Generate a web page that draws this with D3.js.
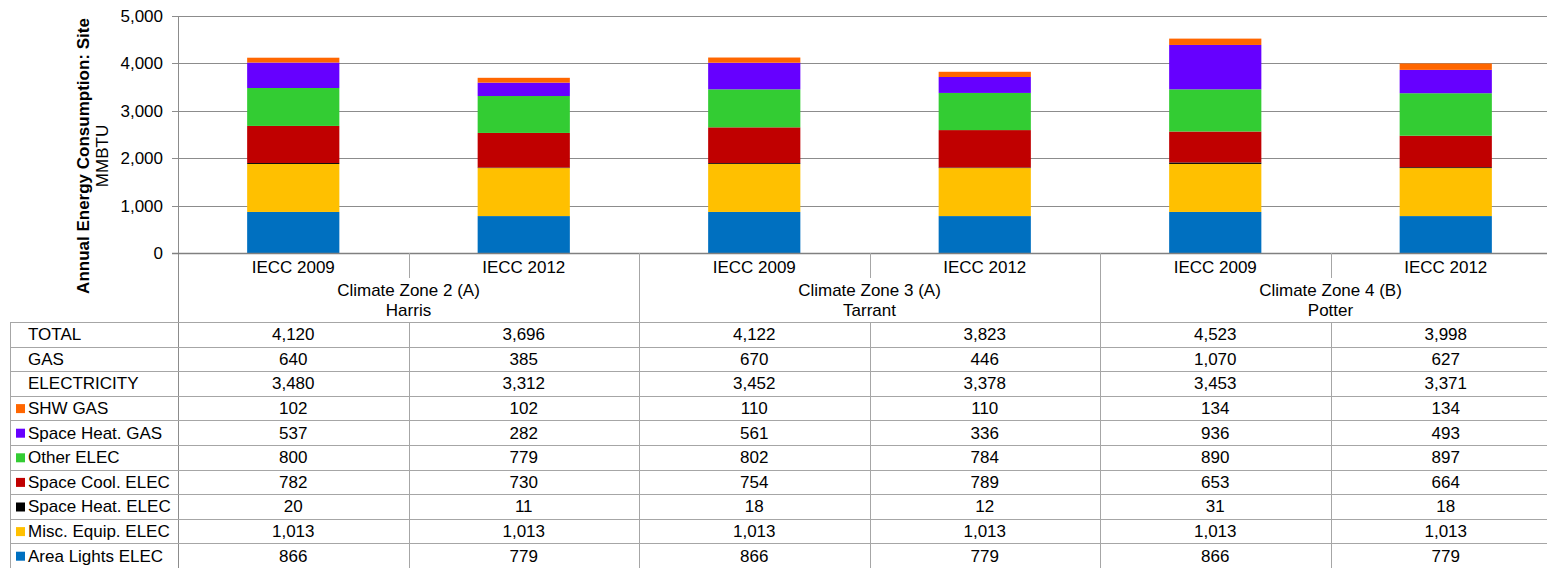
<!DOCTYPE html>
<html>
<head>
<meta charset="utf-8">
<script src="https://cdn.jsdelivr.net/npm/d3@7"></script>
<style>
  body { margin: 0; background: #fff; }
  svg { display: block; font-family: "Liberation Sans", Arial, sans-serif; }
</style>
</head>
<body>
<div id="chart"></div>
<script>
// categories (code year) and groups (climate zone / county)
const codes = ["IECC 2009", "IECC 2012", "IECC 2009", "IECC 2012", "IECC 2009", "IECC 2012"]
const zones = ["Climate Zone 2 (A)", "Climate Zone 3 (A)", "Climate Zone 4 (B)"]
const counties = ["Harris", "Tarrant", "Potter"]

// series, bottom of stack first
const seriesNames = ["Area Lights ELEC", "Misc. Equip. ELEC", "Space Heat. ELEC", "Space Cool. ELEC", "Other ELEC", "Space Heat. GAS", "SHW GAS"]
const seriesColors = ["#0070C0", "#FFC000", "#000000", "#C00000", "#33CC33", "#6600FF", "#FF6600"]

const areaLights = [866, 779, 866, 779, 866, 779]
const miscEquip = [1013, 1013, 1013, 1013, 1013, 1013]
const spaceHeatElec = [20, 11, 18, 12, 31, 18]
const spaceCool = [782, 730, 754, 789, 653, 664]
const otherElec = [800, 779, 802, 784, 890, 897]
const spaceHeatGas = [537, 282, 561, 336, 936, 493]
const shwGas = [102, 102, 110, 110, 134, 134]

// summary rows as printed in the table
const totals = [4120, 3696, 4122, 3823, 4523, 3998]
const gasTotals = [640, 385, 670, 446, 1070, 627]
const elecTotals = [3480, 3312, 3452, 3378, 3453, 3371]

const yTicks = [0, 1000, 2000, 3000, 4000, 5000]

const seriesValues = [areaLights, miscEquip, spaceHeatElec, spaceCool, otherElec, spaceHeatGas, shwGas]

const width = 1547, height = 568
const plotLeft = 178, plotRight = 1561, plotTop = 16, plotBottom = 253
const tableLeft = 10, tableTop = 322, rowH = 24.6
const gridColor = "#8c8c8c", tableLine = "#a6a6a6"

const svg = d3.select("#chart").append("svg")
    .attr("width", width)
    .attr("height", height)

const x = d3.scaleBand()
    .domain(d3.range(codes.length))
    .range([plotLeft, plotRight])
    .paddingInner(0)
    .paddingOuter(0)

const y = d3.scaleLinear()
    .domain([0, 5000])
    .range([plotBottom, plotTop])

// gridlines
svg.append("g")
    .selectAll("line")
    .data(yTicks)
    .join("line")
    .attr("x1", plotLeft - 6)
    .attr("x2", plotRight)
    .attr("y1", d => Math.round(y(d)) + 0.5)
    .attr("y2", d => Math.round(y(d)) + 0.5)
    .style("stroke", gridColor)
    .style("stroke-width", 1)

// y axis labels
svg.append("g")
    .selectAll("text")
    .data(yTicks)
    .join("text")
    .attr("x", plotLeft - 15)
    .attr("y", d => y(d))
    .attr("dy", "0.35em")
    .attr("text-anchor", "end")
    .style("font-size", "17px")
    .style("fill", "#000")
    .text(d => d3.format(",")(d))

// y axis title
const title = svg.append("text")
    .attr("transform", "translate(83,156) rotate(-90)")
    .attr("text-anchor", "middle")
    .style("font-size", "17px")
title.append("tspan")
    .attr("x", 0).attr("dy", "0.35em")
    .style("font-weight", "bold")
    .text("Annual Energy Consumption: Site")
title.append("tspan")
    .attr("x", 0).attr("dy", "1.1em")
    .text("MMBTU")

// stacked bars
const stackData = codes.map((c, i) => {
    const row = { i }
    seriesNames.forEach((s, k) => { row[s] = seriesValues[k][i] })
    return row
})
const stacked = d3.stack().keys(seriesNames)(stackData)
const barW = x.bandwidth() * 0.4

svg.append("g")
    .selectAll("g")
    .data(stacked)
    .join("g")
    .style("fill", (d, k) => seriesColors[k])
    .selectAll("rect")
    .data(d => d)
    .join("rect")
    .attr("x", d => x(d.data.i) + (x.bandwidth() - barW) / 2)
    .attr("width", barW)
    .attr("y", d => y(d[1]))
    .attr("height", d => y(d[0]) - y(d[1]))

// axis lines
svg.append("line")
    .attr("x1", plotLeft + 0.5).attr("x2", plotLeft + 0.5)
    .attr("y1", plotTop).attr("y2", height)
    .style("stroke", gridColor)
svg.append("line")
    .attr("x1", plotLeft - 6).attr("x2", plotRight)
    .attr("y1", Math.round(y(0)) + 0.5).attr("y2", Math.round(y(0)) + 0.5)
    .style("stroke", "#808080")
    .style("stroke-width", 1.5)

// category labels
svg.append("g")
    .selectAll("text")
    .data(codes)
    .join("text")
    .attr("x", (d, i) => x(i) + x.bandwidth() / 2)
    .attr("y", 267)
    .attr("dy", "0.35em")
    .attr("text-anchor", "middle")
    .style("font-size", "17px")
    .text(d => d)

// separators below axis
svg.append("g")
    .selectAll("line")
    .data(d3.range(1, codes.length))
    .join("line")
    .attr("x1", i => Math.round(x(i)) + 0.5)
    .attr("x2", i => Math.round(x(i)) + 0.5)
    .attr("y1", plotBottom)
    .attr("y2", i => i % 2 === 0 ? height : tableTop)
    .style("stroke", tableLine)
    .attr("y2", i => i % 2 === 0 ? tableTop : 278)

// zone labels
const zoneG = svg.append("g")
    .selectAll("text")
    .data(zones)
    .join("text")
    .attr("x", (d, i) => x(i * 2 + 1))
    .attr("text-anchor", "middle")
    .style("font-size", "17px")
zoneG.append("tspan")
    .attr("x", (d, i) => x(i * 2 + 1))
    .attr("y", 290).attr("dy", "0.35em")
    .text(d => d)
zoneG.append("tspan")
    .attr("x", (d, i) => x(i * 2 + 1))
    .attr("y", 310).attr("dy", "0.35em")
    .text((d, i) => counties[i])

// data table
const tableRows = [
    { label: "TOTAL", values: totals, color: null },
    { label: "GAS", values: gasTotals, color: null },
    { label: "ELECTRICITY", values: elecTotals, color: null }
]
for (let k = seriesNames.length - 1; k >= 0; k--) {
    tableRows.push({ label: seriesNames[k], values: seriesValues[k], color: seriesColors[k] })
}

const table = svg.append("g")

// horizontal rules
table.selectAll("line.h")
    .data(d3.range(tableRows.length + 1))
    .join("line")
    .attr("class", "h")
    .attr("x1", tableLeft)
    .attr("x2", plotRight)
    .attr("y1", r => Math.round(tableTop + r * rowH) + 0.5)
    .attr("y2", r => Math.round(tableTop + r * rowH) + 0.5)
    .style("stroke", tableLine)

// vertical rules
table.selectAll("line.v")
    .data([tableLeft].concat(d3.range(1, codes.length).map(i => Math.round(x(i)))))
    .join("line")
    .attr("class", "v")
    .attr("x1", d => d + 0.5)
    .attr("x2", d => d + 0.5)
    .attr("y1", tableTop)
    .attr("y2", height)
    .style("stroke", tableLine)

const rowG = table.selectAll("g.row")
    .data(tableRows)
    .join("g")
    .attr("class", "row")
    .attr("transform", (d, r) => `translate(0,${tableTop + r * rowH + rowH / 2})`)

rowG.filter(d => d.color)
    .append("rect")
    .attr("x", 16)
    .attr("y", -4)
    .attr("width", 9)
    .attr("height", 9)
    .style("fill", d => d.color)

rowG.append("text")
    .attr("x", 28)
    .attr("dy", "0.35em")
    .style("font-size", "17px")
    .text(d => d.label)

rowG.selectAll("text.val")
    .data(d => d.values)
    .join("text")
    .attr("class", "val")
    .attr("x", (v, i) => x(i) + x.bandwidth() / 2)
    .attr("dy", "0.35em")
    .attr("text-anchor", "middle")
    .style("font-size", "17px")
    .text(v => d3.format(",")(v))
</script>
</body>
</html>
